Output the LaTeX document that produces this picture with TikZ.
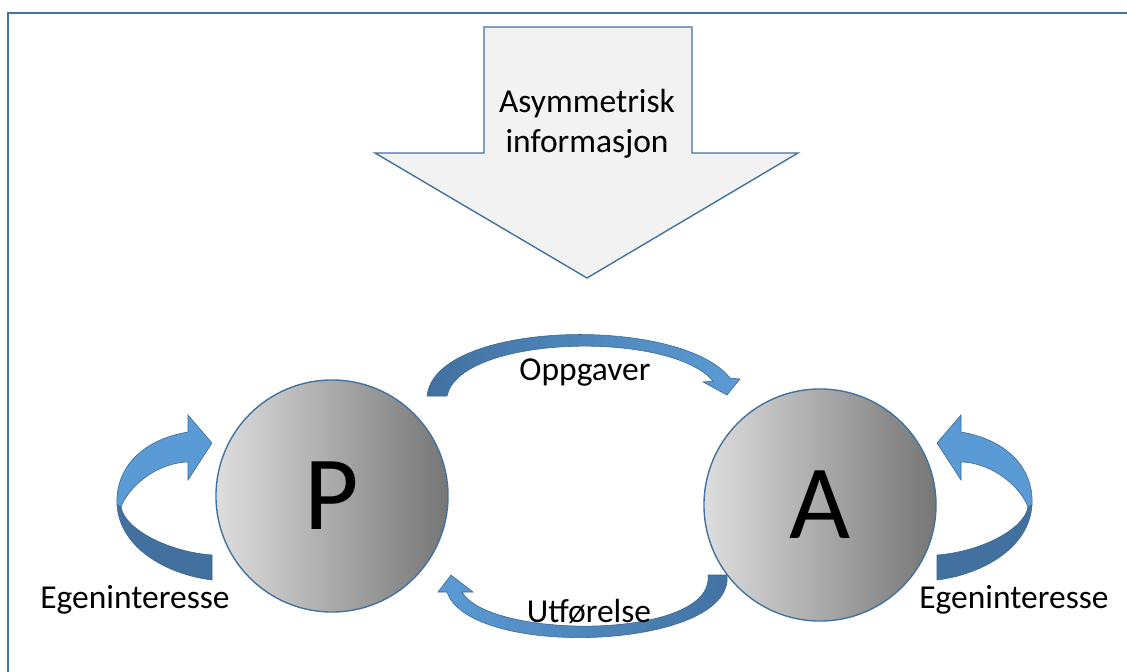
\documentclass[tikz,border=0pt]{standalone}
\usepackage{fontspec}
\setmainfont{Carlito}
\usepackage{tikz}
\usetikzlibrary{positioning}
\definecolor{frameblue}{RGB}{67,114,158}
\definecolor{ribbonlight}{RGB}{91,155,213}
\definecolor{ribbondark}{RGB}{66,113,160}
\definecolor{arrowgrey}{RGB}{242,242,242}
\newcommand{\lblsize}{\fontsize{23.8}{28.5}\selectfont}
\newcommand{\selfloop}{%
  \filldraw[ribbon, fill=ribbonlight] (-24,-11) .. controls (-72,-3) and (-97,27) .. (-95,62)
    -- (-91,64) .. controls (-84,45) and (-57,20) .. (-24,19)
    -- (-24,37) -- (0,0) -- (-24,-28) -- cycle;
  \filldraw[ribbon, fill=ribbondark] (-95,62) .. controls (-92,107) and (-42,132) .. (0,137)
    -- (0,112) .. controls (-42,109) and (-87,87) .. (-91,64) -- cycle;
}

\begin{document}
\begin{tikzpicture}[
  x=0.025cm, y=-0.025cm,
  every node/.style={inner sep=0pt},
  lbl/.style={font=\lblsize, anchor=base},
  agent/.style={circle, draw=frameblue, line width=1pt, minimum size=5.8cm,
    left color={rgb,255:red,222;green,222;blue,222}, right color={rgb,255:red,118;green,118;blue,118},
    font=\fontsize{75}{75}\selectfont},
  ribbon/.style={draw=ribbondark!90!black, line width=0.4pt},
  bigarrow/.style={fill=arrowgrey, draw=frameblue, line width=1pt, line join=miter}
]
  \useasboundingbox (0,0) rectangle (1127,672);
  \draw[frameblue, line width=2pt] (8,680) -- (8,13) -- (1135,13);

  % asymmetric information
  \filldraw[bigarrow] (484,27) -- (692,27) -- (692,153) -- (798,153) -- (587,278)
    -- (375,153) -- (484,153) -- cycle;
  \node[font=\lblsize, align=center] (info) at (587,124) {Asymmetrisk\\[0pt]informasjon};

  \node[agent] (P) at (332,496) {P};
  \node[agent] (A) at (820,505) {A};

  \shade[ribbon, left color=ribbondark, right color=ribbonlight]
    (427,396) .. controls (435,320) and (680,315) .. (730,378) -- (740,379) -- (727,395)
    -- (703,382) -- (713,381) .. controls (670,330) and (460,335) .. (447,396) -- cycle;
  \shade[ribbon, left color=ribbonlight, right color=ribbondark]
    (727,575) .. controls (735,650) and (470,660) .. (447,592) -- (438,592) -- (451,575)
    -- (473,592) -- (462,592) .. controls (490,640) and (715,640) .. (708,575) -- cycle;

  \begin{scope}[shift={(212,443)}]
    \selfloop
  \end{scope}
  \begin{scope}[shift={(937,443)}, xscale=-1]
    \selfloop
  \end{scope}

  \node[lbl] (opp) at (585,380) {Oppgaver};
  \node[lbl] (utf) at (589,622) {Utførelse};
  \node[lbl] (egenP) at (135,608) {Egeninteresse};
  \node[lbl] (egenA) at (1014,608) {Egeninteresse};
\end{tikzpicture}
\end{document}
